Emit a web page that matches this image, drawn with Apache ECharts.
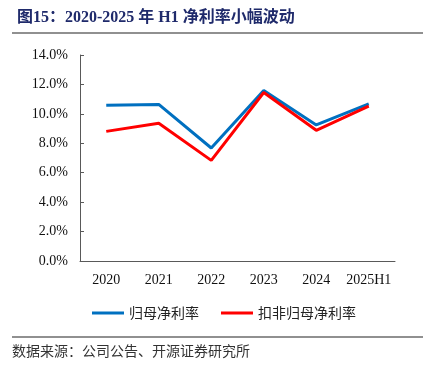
<!DOCTYPE html>
<html><head><meta charset="utf-8">
<script src="https://cdn.jsdelivr.net/npm/echarts@6/dist/echarts.min.js"></script>
<style>html,body{margin:0;padding:0;background:#fff}#c{width:440px;height:373px}</style>
</head><body><div id="c"></div>
<script>
const categories = ['2020','2021','2022','2023','2024','2025H1'];
const netMargin = [10.59, 10.64, 7.68, 11.59, 9.25, 10.68];
const deductedNetMargin = [8.81, 9.36, 6.84, 11.45, 8.88, 10.52];
const seriesNames = ['归母净利率','扣非归母净利率'];
const titleText = '图15：2020-2025 年 H1 净利率小幅波动';
const sourceText = '数据来源：公司公告、开源证券研究所';

const chart = echarts.init(document.getElementById('c'));
const serif = '"Liberation Serif","Times New Roman","Noto Sans CJK SC",serif';
chart.setOption({
  animation:false,
  title:{text:titleText,left:12,top:5,textStyle:{fontFamily:serif,fontSize:16,fontWeight:'bold',color:'#1F2A6B'}},
  graphic:[
    {type:'line',shape:{x1:12,y1:33,x2:423,y2:33},style:{stroke:'#6b6b6b',lineWidth:1.5}},
    {type:'line',shape:{x1:12,y1:337,x2:423,y2:337},style:{stroke:'#6b6b6b',lineWidth:1.5}},
    {type:'text',left:12,top:344,style:{text:sourceText,font:'14px "Noto Sans CJK SC",sans-serif',fill:'#333'}}
  ],
  grid:{left:80,right:45,top:55,bottom:112},
  legend:{left:87,top:301,itemWidth:32,itemHeight:3,itemGap:22,icon:'rect',
    textStyle:{fontFamily:'"Noto Sans CJK SC",sans-serif',fontSize:14,color:'#222'},
    data:seriesNames},
  xAxis:{type:'category',data:categories,boundaryGap:true,
    axisLine:{lineStyle:{color:'#595959'}},
    axisTick:{inside:true,length:4,lineStyle:{color:'#595959'}},
    axisLabel:{interval:0,fontFamily:serif,fontSize:14,color:'#111',margin:12}},
  yAxis:{type:'value',min:0,max:14,interval:2,
    axisLine:{show:true,lineStyle:{color:'#595959'}},
    axisTick:{show:true,inside:true,length:4,lineStyle:{color:'#595959'}},
    splitLine:{show:false},
    axisLabel:{fontFamily:serif,fontSize:14,color:'#111',margin:12,formatter:v=>v.toFixed(1)+'%'}},
  series:[
    {name:seriesNames[0],type:'line',data:netMargin,symbol:'none',lineStyle:{color:'#0070C0',width:3},itemStyle:{color:'#0070C0'}},
    {name:seriesNames[1],type:'line',data:deductedNetMargin,symbol:'none',lineStyle:{color:'#FF0000',width:3},itemStyle:{color:'#FF0000'}}
  ]
});
</script></body></html>
